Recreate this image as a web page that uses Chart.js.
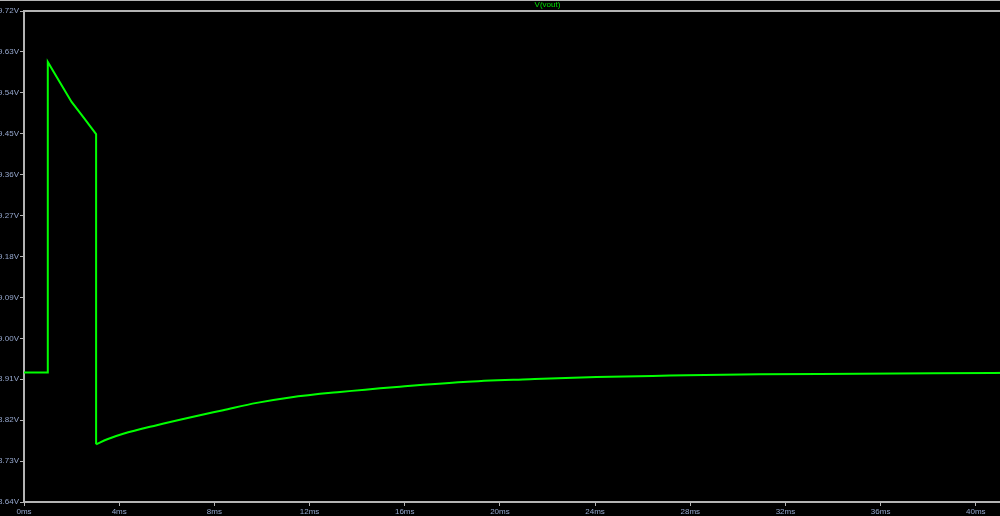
<!DOCTYPE html>
<html>
<head>
<meta charset="utf-8">
<script src="https://cdn.jsdelivr.net/npm/chart.js@4.4.0/dist/chart.umd.min.js"></script>
<style>
    html, body { margin: 0; padding: 0; background: #000; overflow: hidden; }
    #wrap { width: 1000px; height: 516px; overflow: hidden; position: relative; }
    #plot { display: block; }
</style>
</head>
<body>
<div id="wrap"><canvas id="plot" width="1100" height="516"></canvas></div>
<script>
// V(vout) transient
// pulse part (straight segments)
const pulseMs   = [0, 1.0, 1.0, 1.5, 2.0, 2.5, 3.03, 3.03];
const pulseVout = [8.925, 8.925, 9.608, 9.564, 9.520, 9.486, 9.449, 8.767];
// recovery part (smooth)
const recMs   = [3.03, 3.5, 4.17, 5.58, 6.97, 8.37, 9.78, 11.18, 13.28, 15.66, 18.46, 21.26, 24.06, 27.14, 30.9, 35.1, 40.7, 44];
const recVout = [8.767, 8.778, 8.790, 8.809, 8.826, 8.842, 8.858, 8.870, 8.882, 8.893, 8.904, 8.910, 8.915, 8.918, 8.921, 8.922, 8.924, 8.925];

const xTicks = [0, 4, 8, 12, 16, 20, 24, 28, 32, 36, 40, 44];
const yTicks = [8.64, 8.73, 8.82, 8.91, 9.00, 9.09, 9.18, 9.27, 9.36, 9.45, 9.54, 9.63, 9.72];

const traceName = 'V(vout)';

const FRAME = '#b4b4b4';
const LABEL = '#94a6cc';
const TRACE = '#00ff00';
const tickFont = { family: 'Liberation Sans', size: 8 };

// frame, top strip and trace title, like LTspice
const ltFrame = {
    id: 'ltFrame',
    beforeDatasetsDraw(chart) {
        const { ctx, chartArea: a } = chart;
        ctx.save();
        ctx.fillStyle = FRAME;
        ctx.fillRect(0, 0, chart.width, 1);
        ctx.strokeStyle = FRAME;
        ctx.lineWidth = 2;
        ctx.strokeRect(a.left, a.top, a.right - a.left, a.bottom - a.top);
        ctx.fillStyle = '#00e000';
        ctx.font = '8px "Liberation Sans"';
        ctx.textAlign = 'center';
        ctx.textBaseline = 'middle';
        ctx.fillText(traceName, (a.left + a.right) / 2, 5);
        ctx.restore();
    }
};

const toPts = (xs, ys) => xs.map((t, i) => ({ x: t, y: ys[i] }));

new Chart(document.getElementById('plot').getContext('2d'), {
    type: 'line',
    data: {
        datasets: [{
            label: traceName,
            data: toPts(pulseMs, pulseVout),
            borderColor: TRACE,
            borderWidth: 2,
            pointRadius: 0,
            tension: 0,
            fill: false
        }, {
            label: traceName,
            data: toPts(recMs, recVout),
            borderColor: TRACE,
            borderWidth: 2,
            pointRadius: 0,
            cubicInterpolationMode: 'monotone',
            fill: false
        }]
    },
    options: {
        responsive: false,
        animation: false,
        devicePixelRatio: 1,
        layout: { padding: { top: 11, right: 29, left: 0, bottom: 0 } },
        plugins: {
            legend: { display: false },
            title: { display: false },
            tooltip: { enabled: false }
        },
        scales: {
            x: {
                type: 'linear',
                min: 0,
                max: 44,
                afterBuildTicks: scale => { scale.ticks = xTicks.map(v => ({ value: v })); },
                afterFit: scale => { scale.height = 14; },
                ticks: {
                    callback: v => v + 'ms',
                    color: LABEL,
                    font: tickFont,
                    padding: 1,
                    maxRotation: 0,
                    autoSkip: false
                },
                grid: { drawOnChartArea: false, drawTicks: true, tickLength: 4, color: FRAME, lineWidth: 1 },
                border: { display: false }
            },
            y: {
                type: 'linear',
                min: 8.64,
                max: 9.72,
                afterBuildTicks: scale => { scale.ticks = yTicks.map(v => ({ value: v })); },
                afterFit: scale => { scale.width = 24; },
                ticks: {
                    callback: v => v.toFixed(2) + 'V',
                    color: LABEL,
                    font: tickFont,
                    padding: 1,
                    autoSkip: false
                },
                grid: { drawOnChartArea: false, drawTicks: true, tickLength: 4, color: FRAME, lineWidth: 1 },
                border: { display: false }
            }
        }
    },
    plugins: [ltFrame]
});
</script>
</body>
</html>
